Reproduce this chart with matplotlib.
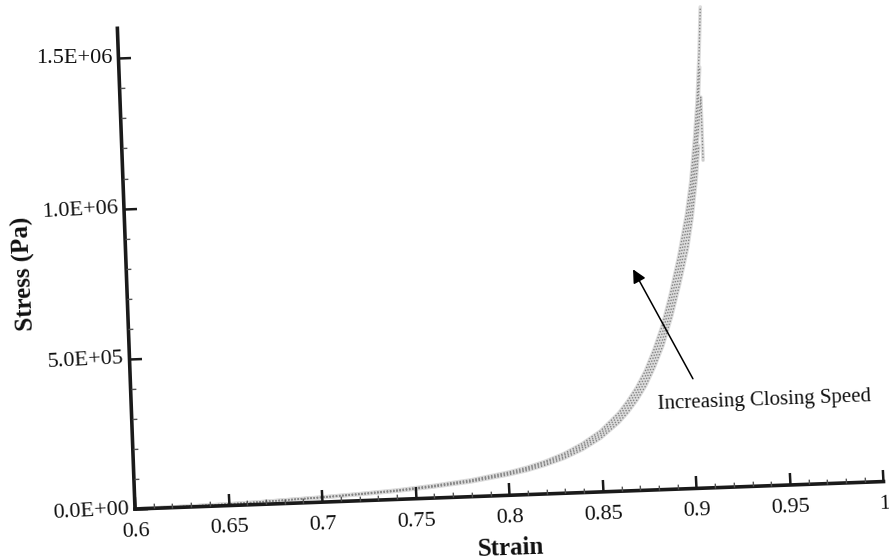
import numpy as np
import matplotlib
matplotlib.use("Agg")
import matplotlib.pyplot as plt
from matplotlib.transforms import Affine2D
import mpl_toolkits.axisartist.floating_axes as floating_axes
from mpl_toolkits.axisartist.grid_finder import FixedLocator, DictFormatter

# ---------------- data ----------------
x_ticks = [0.6, 0.65, 0.7, 0.75, 0.8, 0.85, 0.9, 0.95, 1.0]
x_tick_labels = ["0.6", "0.65", "0.7", "0.75", "0.8", "0.85", "0.9", "0.95", "1"]
x_minor = [0.61, 0.62, 0.63, 0.64, 0.66, 0.67, 0.68, 0.69, 0.71, 0.72, 0.73, 0.74,
           0.76, 0.77, 0.78, 0.79, 0.81, 0.82, 0.83, 0.84, 0.86, 0.87, 0.88, 0.89,
           0.91, 0.92, 0.93, 0.94, 0.96, 0.97, 0.98, 0.99]
y_ticks = [0.0, 5.0e5, 1.0e6, 1.5e6]
y_tick_labels = ["0.0E+00", "5.0E+05", "1.0E+06", "1.5E+06"]
y_minor = [1e5, 2e5, 3e5, 4e5, 6e5, 7e5, 8e5, 9e5, 1.1e6, 1.2e6, 1.3e6, 1.4e6]

# stress-strain curves, one per closing speed (fastest first)
s1_strain = [0.60, 0.62, 0.64, 0.66, 0.68, 0.70, 0.72, 0.74, 0.76, 0.78, 0.80, 0.81,
             0.82, 0.83, 0.84, 0.85, 0.86, 0.865, 0.87, 0.875, 0.88, 0.885, 0.89,
             0.895, 0.90, 0.903, 0.906, 0.908, 0.910, 0.9115]
s1_stress = [0, 2.0e3, 4.0e3, 7.0e3, 1.2e4, 1.7e4, 2.35e4, 3.1e4, 4.2e4, 5.6e4, 7.7e4,
             9.1e4, 1.09e5, 1.32e5, 1.63e5, 2.03e5, 2.60e5, 2.98e5, 3.42e5, 3.96e5,
             4.65e5, 5.45e5, 6.5e5, 7.7e5, 9.1e5, 1.02e6, 1.17e6, 1.29e6, 1.45e6, 1.60e6]
s2_strain = [0.60, 0.62, 0.64, 0.66, 0.68, 0.70, 0.72, 0.74, 0.76, 0.78, 0.80, 0.81,
             0.82, 0.83, 0.84, 0.85, 0.86, 0.865, 0.87, 0.875, 0.88, 0.885, 0.89,
             0.895, 0.90, 0.903, 0.906, 0.908, 0.910]
s2_stress = [0, 1.9e3, 3.8e3, 6.7e3, 1.15e4, 1.63e4, 2.25e4, 2.98e4, 4.03e4, 5.4e4, 7.4e4,
             8.75e4, 1.05e5, 1.27e5, 1.56e5, 1.95e5, 2.50e5, 2.86e5, 3.28e5, 3.80e5,
             4.46e5, 5.23e5, 6.24e5, 7.4e5, 8.75e5, 9.8e5, 1.12e6, 1.24e6, 1.40e6]
s3_strain = [0.60, 0.62, 0.64, 0.66, 0.68, 0.70, 0.72, 0.74, 0.76, 0.78, 0.80, 0.81,
             0.82, 0.83, 0.84, 0.85, 0.86, 0.865, 0.87, 0.875, 0.88, 0.885, 0.89,
             0.895, 0.90, 0.903, 0.906, 0.908, 0.910, 0.910]
s3_stress = [0, 1.8e3, 3.7e3, 6.4e3, 1.1e4, 1.56e4, 2.16e4, 2.85e4, 3.86e4, 5.15e4, 7.1e4,
             8.4e4, 1.0e5, 1.21e5, 1.5e5, 1.87e5, 2.39e5, 2.74e5, 3.15e5, 3.64e5,
             4.28e5, 5.0e5, 5.98e5, 7.1e5, 8.4e5, 9.4e5, 1.08e6, 1.19e6, 1.30e6, 1.09e6]
s4_strain = [0.60, 0.62, 0.64, 0.66, 0.68, 0.70, 0.72, 0.74, 0.76, 0.78, 0.80, 0.81,
             0.82, 0.83, 0.84, 0.85, 0.86, 0.865, 0.87, 0.875, 0.88, 0.885, 0.89,
             0.895, 0.90, 0.903, 0.906, 0.908]
s4_stress = [0, 1.75e3, 3.5e3, 6.2e3, 1.05e4, 1.5e4, 2.07e4, 2.73e4, 3.7e4, 4.93e4, 6.8e4,
             8.0e4, 9.6e4, 1.16e5, 1.43e5, 1.79e5, 2.29e5, 2.62e5, 3.01e5, 3.48e5,
             4.09e5, 4.8e5, 5.72e5, 6.8e5, 8.0e5, 9.0e5, 1.03e6, 1.14e6]

arrow_tail = (0.9003, 3.65e5)
arrow_tip = (0.8705, 7.36e5)
note_pos = (0.9380, 2.84e5)
note_text = "Increasing Closing Speed"

# ---------------- layout ----------------
W, H = 889, 557
XMIN, XMAX, YMIN, YMAX = 0.6, 1.0, 0.0, 1.6e6
LX, LY = 749.0, 481.0          # axis lengths (px)
THETA = 2.1                    # scan tilt (deg)
ORIGIN = (135.0, H - 509.0)    # axis origin in display px

SERIF = ["Liberation Serif", "DejaVu Serif"]

fig = plt.figure(figsize=(W / 100, H / 100), dpi=100)

tr = (Affine2D().translate(-XMIN, -YMIN)
      .scale(LX / (XMAX - XMIN), LY / (YMAX - YMIN))
      .rotate_deg(THETA))

corners = tr.transform([[XMIN, YMIN], [XMAX, YMIN], [XMIN, YMAX], [XMAX, YMAX]])
umin, vmin = corners.min(axis=0)
umax, vmax = corners.max(axis=0)
bw, bh = (umax - umin) * 1.02, (vmax - vmin) * 1.02
cx, cy = (umin + umax) / 2, (vmin + vmax) / 2
rect = [(ORIGIN[0] + cx - bw / 2) / W, (ORIGIN[1] + cy - bh / 2) / H, bw / W, bh / H]


def make_axes(xlocs, xfmt, ylocs, yfmt):
    gh = floating_axes.GridHelperCurveLinear(
        tr, extremes=(XMIN, XMAX, YMIN, YMAX),
        grid_locator1=FixedLocator(xlocs), tick_formatter1=DictFormatter(xfmt),
        grid_locator2=FixedLocator(ylocs), tick_formatter2=DictFormatter(yfmt))
    a = fig.add_axes(rect, axes_class=floating_axes.FloatingAxes, grid_helper=gh)
    a.patch.set_visible(False)
    a.axis["top"].set_visible(False)
    a.axis["right"].set_visible(False)
    return a


ax = make_axes(x_ticks, dict(zip(x_ticks, x_tick_labels)),
               y_ticks, dict(zip(y_ticks, y_tick_labels)))
axm = make_axes(x_minor, {}, y_minor, {})

for side in ("bottom", "left"):
    art = ax.axis[side]
    art.line.set_linewidth(2.6)
    art.line.set_color("#1a1a1a")
    art.major_ticks.set_ticksize(9)
    art.major_ticks.set_markeredgewidth(1.8)
    art.major_ticks.set_color("#1a1a1a")
    art.major_ticklabels.set_fontsize(16)
    art.major_ticklabels.set_fontfamily(SERIF)
    art.major_ticklabels.set_color("#111111")
    m = axm.axis[side]
    m.line.set_visible(False)
    m.major_ticks.set_ticksize(3.5)
    m.major_ticks.set_markeredgewidth(1.0)
    m.major_ticks.set_color("#555555")
    m.major_ticklabels.set_visible(False)
    m.label.set_visible(False)

ax.axis["bottom"].major_ticklabels.set_pad(9.5)
ax.axis["left"].major_ticklabels.set_pad(4)
ax.axis["bottom"].label.set_text("Strain")
ax.axis["left"].label.set_text("Stress (Pa)")
for side in ("bottom", "left"):
    lab = ax.axis[side].label
    lab.set_fontsize(18)
    lab.set_fontweight("bold")
    lab.set_fontfamily(SERIF)
    lab.set_color("#111111")
ax.axis["bottom"].label.set_pad(10)
ax.axis["left"].label.set_pad(6)

aux = ax.get_aux_axes(tr)
series = [(s4_strain, s4_stress), (s3_strain, s3_stress),
          (s2_strain, s2_stress), (s1_strain, s1_stress)]
for xs, ys in series:
    aux.plot(xs, ys, color="#dcdcdc", lw=2.6, solid_capstyle="round")
for xs, ys in series:
    aux.plot(xs, ys, color="#858585", lw=1.0, ls=(0, (1.0, 1.3)),
             solid_capstyle="butt")

aux.annotate("", xy=arrow_tip, xytext=arrow_tail, xycoords="data",
             arrowprops=dict(arrowstyle="-|>", color="black", lw=1.1,
                             mutation_scale=20, shrinkA=0, shrinkB=0))
aux.text(note_pos[0], note_pos[1], note_text, fontsize=15, family=SERIF,
         ha="center", va="center", rotation=THETA, rotation_mode="anchor",
         color="#111111")

fig.savefig("out.png", dpi=100)
